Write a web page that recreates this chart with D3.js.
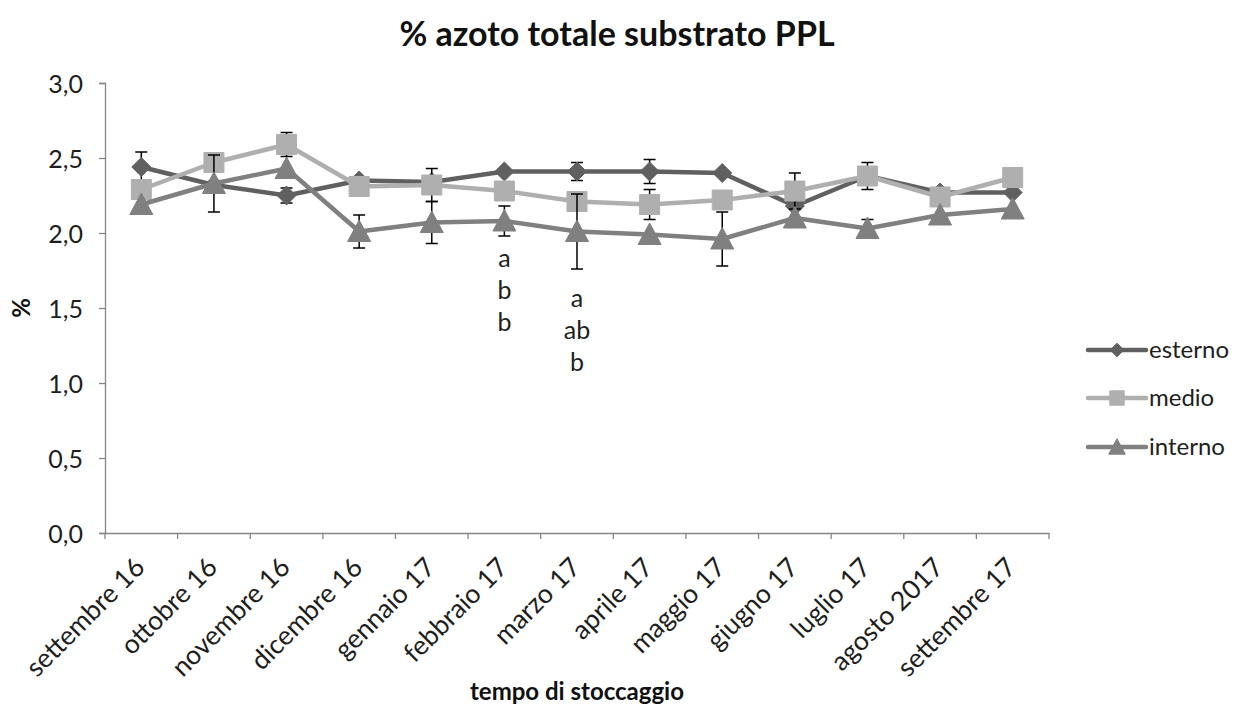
<!DOCTYPE html>
<html>
<head>
<meta charset="utf-8">
<script src="https://cdn.jsdelivr.net/npm/d3@7"></script>
<style>
  html, body { margin: 0; padding: 0; background: #fff; }
  svg { display: block; font-family: Lato, "Open Sans", sans-serif; }
</style>
</head>
<body>
<svg id="chart" width="1235" height="709"></svg>
<script>
// Sampling months
const categories = ["settembre 16", "ottobre 16", "novembre 16", "dicembre 16", "gennaio 17",
  "febbraio 17", "marzo 17", "aprile 17", "maggio 17", "giugno 17", "luglio 17",
  "agosto 2017", "settembre 17"];

// Total nitrogen (%) per position in the pile
const esterno = [2.44, 2.32, 2.25, 2.35, 2.34, 2.41, 2.41, 2.41, 2.40, 2.18, 2.38, 2.27, 2.27];
const medio   = [2.29, 2.47, 2.59, 2.31, 2.32, 2.28, 2.21, 2.19, 2.22, 2.28, 2.38, 2.24, 2.37];
const interno = [2.19, 2.33, 2.43, 2.01, 2.07, 2.08, 2.01, 1.99, 1.96, 2.10, 2.03, 2.12, 2.16];

// Standard deviations (null = not shown)
const esternoErr = [0.10, null, 0.05, null, null, null, 0.06, 0.08, null, null, 0.09, null, null];
const medioErr   = [null, null, 0.08, null, 0.11, null, null, 0.10, null, 0.12, null, null, null];
const internoErr = [null, 0.19, null, 0.11, 0.14, 0.10, 0.25, null, 0.18, null, 0.06, null, null];

// Y axis ticks
const yTicks = [0, 0.5, 1.0, 1.5, 2.0, 2.5, 3.0];

// Significance letters (febbraio 17, marzo 17)
const letterMonths = ["febbraio 17", "marzo 17"];
const letters = [["a", "b", "b"], ["a", "ab", "b"]];

const seriesNames = ["esterno", "medio", "interno"];
const seriesValues = [esterno, medio, interno];
const seriesErrors = [esternoErr, medioErr, internoErr];
const seriesColors = ["#606060", "#afafaf", "#808080"];
const seriesShapes = ["diamond", "square", "triangle"];

const svg = d3.select("#chart");

const x = d3.scaleBand().domain(categories).range([105, 1049]).padding(0);
const y = d3.scaleLinear().domain([0, 3]).range([533, 83]);
const cx = c => x(c) + x.bandwidth() / 2;

const axisColor = "#868686";
const textColor = "#1e1e1e";
const fmt = d => d3.format(".1f")(d).replace(".", ",");

// Title
svg.append("text")
  .attr("x", 617).attr("y", 46)
  .attr("text-anchor", "middle")
  .attr("font-size", 34).attr("font-weight", "bold").attr("fill", "#111")
  .text("% azoto totale substrato PPL");

// Y axis
const yAxis = svg.append("g").attr("transform", "translate(105,0)")
  .call(d3.axisLeft(y).tickValues(yTicks).tickFormat(fmt).tickSize(6).tickPadding(6));
yAxis.select(".domain").attr("stroke", axisColor).attr("stroke-width", 1.3);
yAxis.selectAll(".tick line").attr("stroke", axisColor).attr("stroke-width", 1.3);
yAxis.selectAll(".tick text").attr("font-size", 25).attr("fill", textColor)
  .attr("font-family", "Lato, sans-serif").attr("dy", "0.36em").attr("x", -22);

// X axis with ticks between categories
const xAxis = svg.append("g").attr("transform", "translate(0,533)")
  .call(d3.axisBottom(x).tickSize(0).tickFormat(""));
xAxis.select(".domain").attr("stroke", axisColor).attr("stroke-width", 1.3);
xAxis.selectAll(".tick").remove();
const boundaries = categories.map(c => x(c)).concat([x(categories[categories.length - 1]) + x.bandwidth()]);
xAxis.selectAll("line.sep").data(boundaries).enter().append("line")
  .attr("class", "sep")
  .attr("x1", d => d).attr("x2", d => d)
  .attr("y1", 0).attr("y2", 6)
  .attr("stroke", axisColor).attr("stroke-width", 1.3);

// Rotated month labels
svg.append("g").selectAll("text").data(categories).enter().append("text")
  .attr("transform", d => `translate(${cx(d) + 5},${533 + 36}) rotate(-45)`)
  .attr("text-anchor", "end")
  .attr("font-size", 26.5).attr("fill", textColor)
  .text(d => d);

// Axis titles
svg.append("text")
  .attr("x", 577).attr("y", 700)
  .attr("text-anchor", "middle")
  .attr("font-size", 24).attr("font-weight", "bold").attr("fill", "#111")
  .text("tempo di stoccaggio");

svg.append("text")
  .attr("transform", "translate(30,308) rotate(-90)")
  .attr("text-anchor", "middle")
  .attr("font-size", 24).attr("font-weight", "bold").attr("fill", "#111")
  .text("%");

// Marker path builder
function markerPath(shape, s) {
  if (shape === "diamond") {
    const r = 9.5 * s;
    return `M0,${-r}L${r},0L0,${r}L${-r},0Z`;
  }
  if (shape === "square") {
    const h = 10 * s;
    return `M${-h},${-h}H${h}V${h}H${-h}Z`;
  }
  const w = 11.5 * s, t = 11.5 * s, b = 10 * s;
  return `M0,${-t}L${w},${b}L${-w},${b}Z`;
}

const line = d3.line().x(d => cx(d.cat)).y(d => y(d.v));

// Series: line, error bars, markers
seriesNames.forEach((name, si) => {
  const pts = categories.map((c, i) => ({ cat: c, v: seriesValues[si][i], e: seriesErrors[si][i] }));
  const g = svg.append("g").attr("class", "series-" + name);

  g.append("path").datum(pts)
    .attr("d", line)
    .attr("fill", "none")
    .attr("stroke", seriesColors[si])
    .attr("stroke-width", 4.5)
    .attr("stroke-linejoin", "round");

  const eb = g.selectAll("g.err").data(pts.filter(p => p.e != null)).enter().append("g")
    .attr("class", "err").attr("stroke", "#000").attr("stroke-width", 1.5);
  eb.append("line")
    .attr("x1", d => cx(d.cat)).attr("x2", d => cx(d.cat))
    .attr("y1", d => y(d.v + d.e)).attr("y2", d => y(d.v - d.e));
  eb.append("line")
    .attr("x1", d => cx(d.cat) - 6).attr("x2", d => cx(d.cat) + 6)
    .attr("y1", d => y(d.v + d.e)).attr("y2", d => y(d.v + d.e));
  eb.append("line")
    .attr("x1", d => cx(d.cat) - 6).attr("x2", d => cx(d.cat) + 6)
    .attr("y1", d => y(d.v - d.e)).attr("y2", d => y(d.v - d.e));

  g.selectAll("path.mk").data(pts).enter().append("path")
    .attr("class", "mk")
    .attr("transform", d => `translate(${cx(d.cat)},${y(d.v)})`)
    .attr("d", markerPath(seriesShapes[si], 1))
    .attr("fill", seriesColors[si])
    .attr("stroke", seriesColors[si])
    .attr("stroke-width", 1)
    .attr("stroke-linejoin", "round");
});

// Significance letters under febbraio and marzo
const letterTop = [267, 307];
letterMonths.forEach((m, mi) => {
  svg.append("g").selectAll("text").data(letters[mi]).enter().append("text")
    .attr("x", cx(m))
    .attr("y", (d, i) => letterTop[mi] + i * 32)
    .attr("text-anchor", "middle")
    .attr("font-size", 25).attr("fill", textColor)
    .text(d => d);
});

// Legend
const legendY = [350, 398, 447];
const legend = svg.append("g");
seriesNames.forEach((name, si) => {
  const lg = legend.append("g").attr("transform", `translate(1088,${legendY[si]})`);
  lg.append("line").attr("x1", 0).attr("x2", 58).attr("y1", 0).attr("y2", 0)
    .attr("stroke", seriesColors[si]).attr("stroke-width", 4.5).attr("stroke-linecap", "round");
  lg.append("path").attr("transform", "translate(29,0)")
    .attr("d", markerPath(seriesShapes[si], 0.72))
    .attr("fill", seriesColors[si]).attr("stroke", seriesColors[si]);
  lg.append("text").attr("x", 61).attr("y", 8)
    .attr("font-size", 24).attr("fill", textColor)
    .text(name);
});
</script>
</body>
</html>
